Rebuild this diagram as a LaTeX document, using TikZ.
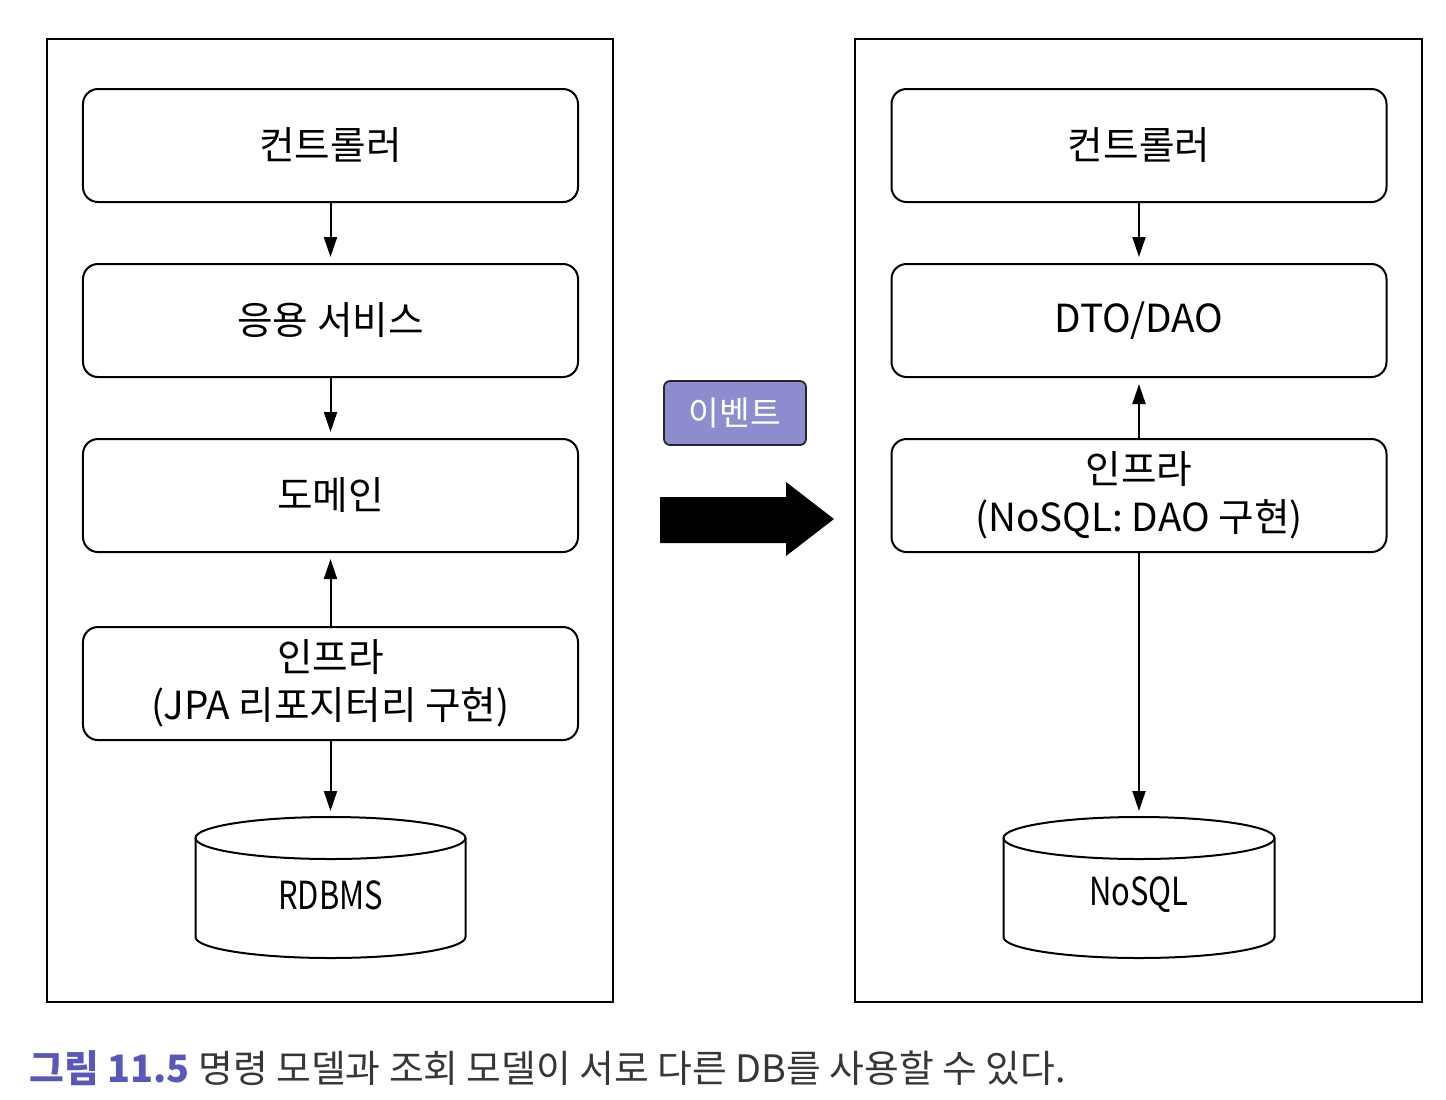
\documentclass[tikz,border=0pt]{standalone}
\usepackage{fontspec}
\setmainfont{Noto Sans CJK KR}
\usepackage{xcolor}
\usepackage{tikz}
\usetikzlibrary{arrows.meta,positioning}

\definecolor{figblue}{RGB}{88,88,186}
\definecolor{evfill}{RGB}{140,140,206}
\definecolor{captxt}{RGB}{55,55,55}

\begin{document}
\begin{tikzpicture}[
  x=0.2mm, y=-0.2mm,
  node distance=12mm and 10mm,
  every node/.style={font=\fontsize{22}{27.5}\selectfont},
  frame/.style={draw, line width=0.4mm},
  box/.style={rectangle, draw, line width=0.4mm, rounded corners=3mm,
              align=center, inner sep=0pt, minimum width=99mm,
              minimum height=22.6mm},
  db/.style={draw, line width=0.4mm},
  dbtext/.style={inner sep=0pt},
  event/.style={rectangle, draw=black!85, line width=0.35mm, fill=evfill,
                rounded corners=1.2mm, minimum width=28.4mm,
                minimum height=12.8mm, text=white,
                font=\fontsize{19}{22}\selectfont},
  arr/.style={-{Triangle[length=4mm, width=2.6mm]}, line width=0.4mm,
              shorten >=1.2mm},
]
\useasboundingbox (0,0) rectangle (1446,1099);

% left: command side
\draw[frame] (47,39) rectangle (613,1002);
\node[box] (ctrlL) at (330.5,145.5) {컨트롤러};
\node[box, below=of ctrlL] (svcL) {응용 서비스};
\node[box, below=of svcL] (domL) {도메인};
\node[box, below=14.6mm of domL] (infraL) {인프라\\(JPA 리포지터리 구현)};

\draw[db] (330.5,838) ellipse[x radius=27mm, y radius=4.2mm];
\draw[db] (195.5,838) -- (195.5,937)
  arc[start angle=180, end angle=360, x radius=27mm, y radius=4.2mm]
  -- (465.5,838);
\coordinate (rdbmsTop) at (330.5,817);
\node[dbtext] (rdbms) at (330.5,895) {\scalebox{0.8}[1]{RDBMS}};

% right: query side
\draw[frame] (855,39) rectangle (1422,1002);
\node[box] (ctrlR) at (1139,145.5) {컨트롤러};
\node[box, below=of ctrlR] (dtoR) {DTO/DAO};
\node[box, below=of dtoR] (infraR) {인프라\\(NoSQL: DAO 구현)};

\draw[db] (1139,838) ellipse[x radius=27.1mm, y radius=4.2mm];
\draw[db] (1003.5,838) -- (1003.5,937)
  arc[start angle=180, end angle=360, x radius=27.1mm, y radius=4.2mm]
  -- (1274.5,838);
\coordinate (nosqlTop) at (1139,817);
\node[dbtext] (nosql) at (1139,895) {\scalebox{0.8}[1]{NoSQL}};

% event in the middle
\node[event] (event) at (735,413) {이벤트};
\fill (660,497) -- (786,497) -- (786,482) -- (834,519) -- (786,556)
  -- (786,543) -- (660,543) -- cycle;

\draw[arr] (ctrlL) -- (svcL);
\draw[arr] (svcL) -- (domL);
\draw[arr] (infraL) -- (domL);
\draw[arr] (infraL) -- (rdbmsTop);
\draw[arr] (ctrlR) -- (dtoR);
\draw[arr] (infraR) -- (dtoR);
\draw[arr] (infraR) -- (nosqlTop);

\node[anchor=west, inner sep=0pt, text=captxt,
      font=\fontsize{21.5}{24}\selectfont] (cap) at (29,1068)
  {\textcolor{figblue}{\bfseries 그림 11.5} 명령 모델과 조회 모델이 서로 다른 DB를 사용할 수 있다.};
\end{tikzpicture}
\end{document}
